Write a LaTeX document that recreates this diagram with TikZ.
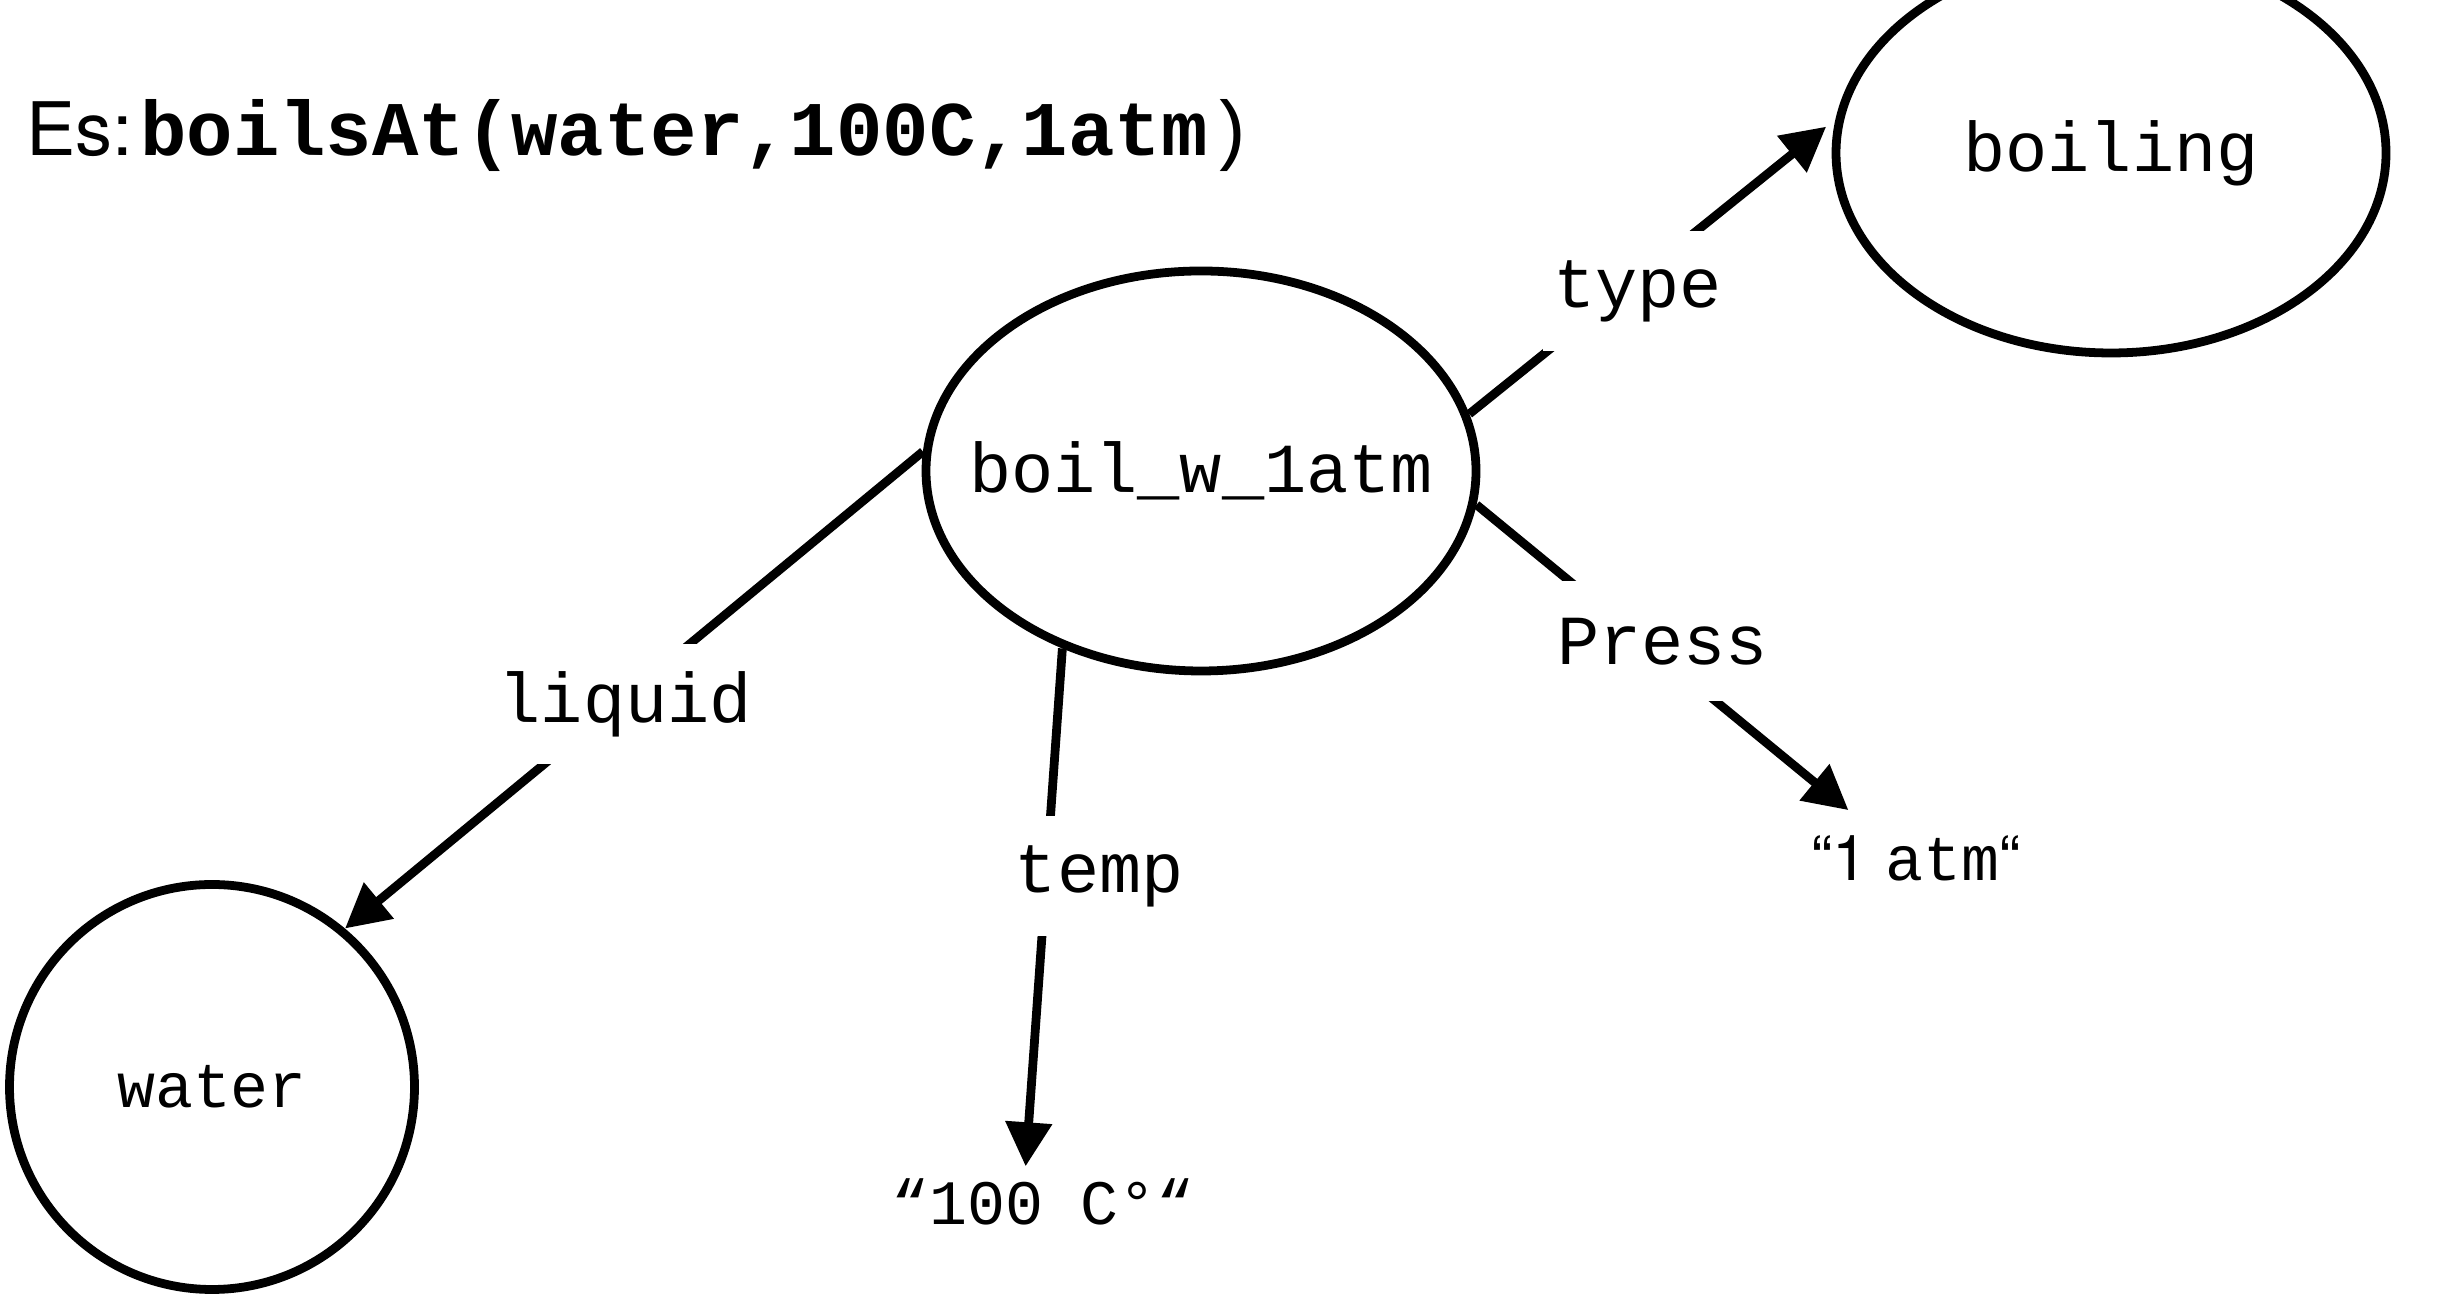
\documentclass[tikz,border=0pt]{standalone}
\usepackage{fontspec}
\setmonofont{Liberation Mono}
\setsansfont{TeX Gyre Heros}
\usepackage{tikz}
\usetikzlibrary{arrows.meta,positioning,shapes.geometric}

\begin{document}
\begin{tikzpicture}[every node/.style={font=\ttfamily\fontsize{20}{24}\selectfont},
    ell/.style={draw, ellipse, line width=2.5pt, inner sep=0pt, minimum width=5.5cm, minimum height=4cm},
    lbl/.style={fill=white, inner xsep=3pt, minimum height=1.2cm},
    arr/.style={-{Triangle[length=4.4mm,width=4.5mm]}, line width=2.5pt}]
  \useasboundingbox (0,0) rectangle (24.46,13);
  \clip (0,0) rectangle (24.46,13);
  % title
  \node[anchor=base west, inner sep=0pt, font=\ttfamily\bfseries\fontsize{22}{26}\selectfont] (title) at (0.26,11.44)
    {{\sffamily\mdseries\fontsize{21}{25}\selectfont Es:}\kern2pt boilsAt(water,100C,1atm{\mdseries)}};
  % nodes
  \node[ell, label=center:{boil\_w\_1atm}] (boil) at (12.01,8.29) {};
  \node[ell, label=center:{boiling}] (boiling) at (21.11,11.47) {};
  \node[draw, circle, line width=2.5pt, inner sep=0pt, minimum size=4.05cm, font=\ttfamily\fontsize{18}{22}\selectfont] (water) at (2.12,2.13) {water};
  \node[font=\ttfamily\fontsize{18}{22}\selectfont] (t100) at (10.43,0.98) {“100 C°“};
  \node[font=\ttfamily\fontsize{18}{22}\selectfont] (atm1) at (19.16,4.42) {{\sffamily “1 }atm{\sffamily “}};
  % edges
  \draw[arr, shorten >=0.12cm] (boil.12) -- node[lbl, pos=0.46, yshift=-0.13cm] {type} (boiling.173);
  \draw[arr, shorten >=0.2cm] (boil.353) -- node[lbl, pos=0.48, yshift=0.16cm] {Press} (atm1.146);
  \draw[arr] (boil.176) -- node[lbl, pos=0.515, yshift=-0.07cm] {liquid} (water.50);
  \draw[arr] (boil.232) -- node[lbl, pos=0.44, xshift=0.53cm] {temp} (t100.116);
\end{tikzpicture}
\end{document}
